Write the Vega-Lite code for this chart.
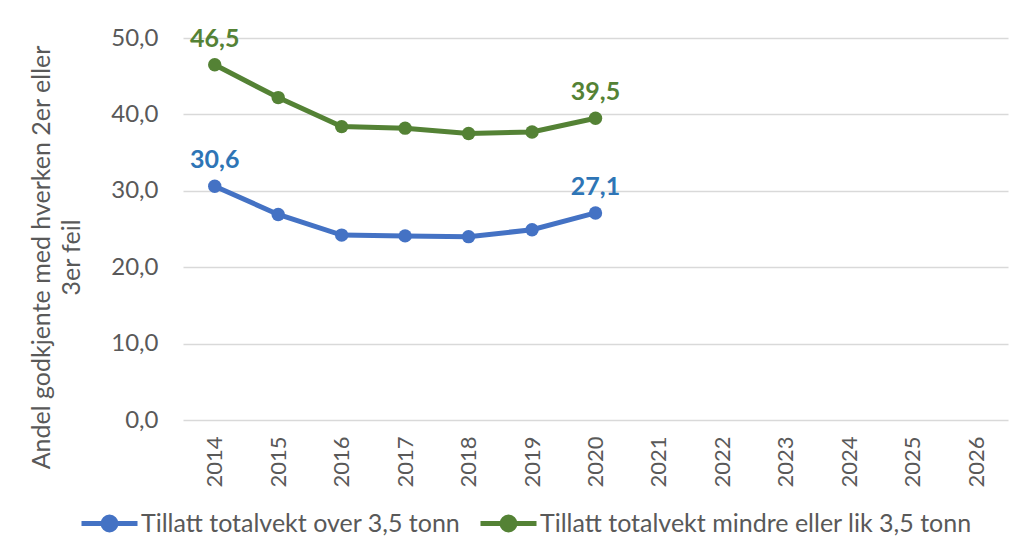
{
  "$schema": "https://vega.github.io/schema/vega-lite/v6.json",
  "width": 825,
  "height": 382,
  "autosize": {"type": "none"},
  "padding": {"left": 183, "top": 38, "right": 10, "bottom": 136},
  "background": "white",
  "config": {
    "locale": {"number": {"decimal": ",", "thousands": " ", "grouping": [3], "currency": ["", " kr"]}},
    "font": "Lato",
    "view": {"stroke": null}
  },
  "data": {
    "values": [
      {"year": "2014", "serie": "Tillatt totalvekt over 3,5 tonn", "verdi": 30.6},
      {"year": "2015", "serie": "Tillatt totalvekt over 3,5 tonn", "verdi": 26.9},
      {"year": "2016", "serie": "Tillatt totalvekt over 3,5 tonn", "verdi": 24.2},
      {"year": "2017", "serie": "Tillatt totalvekt over 3,5 tonn", "verdi": 24.1},
      {"year": "2018", "serie": "Tillatt totalvekt over 3,5 tonn", "verdi": 24.0},
      {"year": "2019", "serie": "Tillatt totalvekt over 3,5 tonn", "verdi": 24.9},
      {"year": "2020", "serie": "Tillatt totalvekt over 3,5 tonn", "verdi": 27.1},
      {"year": "2014", "serie": "Tillatt totalvekt mindre eller lik 3,5 tonn", "verdi": 46.5},
      {"year": "2015", "serie": "Tillatt totalvekt mindre eller lik 3,5 tonn", "verdi": 42.2},
      {"year": "2016", "serie": "Tillatt totalvekt mindre eller lik 3,5 tonn", "verdi": 38.4},
      {"year": "2017", "serie": "Tillatt totalvekt mindre eller lik 3,5 tonn", "verdi": 38.2},
      {"year": "2018", "serie": "Tillatt totalvekt mindre eller lik 3,5 tonn", "verdi": 37.5},
      {"year": "2019", "serie": "Tillatt totalvekt mindre eller lik 3,5 tonn", "verdi": 37.7},
      {"year": "2020", "serie": "Tillatt totalvekt mindre eller lik 3,5 tonn", "verdi": 39.5}
    ]
  },
  "encoding": {
    "x": {
      "field": "year",
      "type": "ordinal",
      "scale": {"domain": ["2014","2015","2016","2017","2018","2019","2020","2021","2022","2023","2024","2025","2026"], "padding": 0.5},
      "axis": {
        "title": null,
        "labelAngle": 270,
        "labelFontSize": 22,
        "labelColor": "#595959",
        "labelPadding": 16,
        "ticks": false,
        "domain": false,
        "grid": false
      }
    },
    "y": {
      "field": "verdi",
      "type": "quantitative",
      "scale": {"domain": [0, 50], "nice": false},
      "axis": {
        "values": [0, 10, 20, 30, 40, 50],
        "format": ".1f",
        "labelFontSize": 24,
        "labelColor": "#595959",
        "labelPadding": 25,
        "ticks": false,
        "domain": false,
        "gridColor": "#d9d9d9",
        "gridWidth": 1.5,
        "title": ["Andel godkjente med hverken 2er eller", "3er feil"],
        "titleFontSize": 25,
        "titleFontWeight": "normal",
        "titleColor": "#595959",
        "titleLineHeight": 30,
        "titleAngle": 270,
        "titleBaseline": "top",
        "titleAlign": "center",
        "titleX": -154,
        "titleY": 219
      }
    },
    "color": {
      "field": "serie",
      "type": "nominal",
      "scale": {
        "domain": ["Tillatt totalvekt over 3,5 tonn", "Tillatt totalvekt mindre eller lik 3,5 tonn"],
        "range": ["#4472C4", "#548235"]
      },
      "legend": {
        "title": null,
        "orient": "none",
        "legendX": -104,
        "legendY": 455,
        "direction": "horizontal",
        "labelFontSize": 25,
        "labelColor": "#595959",
        "labelOffset": 1,
        "labelLimit": 700,
        "columnPadding": 9,
        "symbolType": "M-1,0L1,0M-0.23,0A0.23,0.23,0,1,1,0.23,0A0.23,0.23,0,1,1,-0.23,0Z",
        "symbolSize": 3136,
        "symbolStrokeWidth": 5,
        "symbolOpacity": 1,
        "encode": {"symbols": {"update": {"fill": {"scale": "color", "field": "value"}, "fillOpacity": {"value": 1}}}}
      }
    }
  },
  "layer": [
    {"mark": {"type": "line", "strokeWidth": 5}},
    {"mark": {"type": "point", "filled": true, "size": 180, "opacity": 1}},
    {
      "transform": [{"filter": "datum.year == '2014' || datum.year == '2020'"}],
      "mark": {"type": "text", "fontSize": 25, "fontWeight": "bold", "dy": -26, "baseline": "middle"},
      "encoding": {
        "text": {"field": "verdi", "type": "quantitative", "format": ".1f"},
        "color": {"value": null},
        "fill": {
          "field": "serie",
          "type": "nominal",
          "scale": {
            "domain": ["Tillatt totalvekt over 3,5 tonn", "Tillatt totalvekt mindre eller lik 3,5 tonn"],
            "range": ["#2E75B6", "#548235"]
          },
          "legend": null
        }
      }
    }
  ]
}
